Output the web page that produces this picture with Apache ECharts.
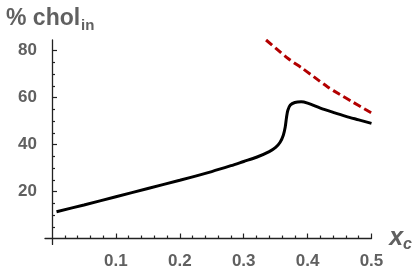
<!DOCTYPE html>
<html>
<head>
<meta charset="utf-8">
<script src="https://cdn.jsdelivr.net/npm/echarts@6/dist/echarts.min.js"></script>
<style>html,body{margin:0;padding:0;background:#fff}#c{width:415px;height:270px}</style>
</head>
<body>
<div id="c"></div>
<script>
const xTickLabels = [0.1, 0.2, 0.3, 0.4, 0.5];
const yTickLabels = [20, 40, 60, 80];
const blackX = [0.007, 0.05, 0.1, 0.15, 0.2, 0.25, 0.28, 0.3, 0.32, 0.34, 0.35, 0.357, 0.362, 0.365, 0.367, 0.369, 0.373, 0.38, 0.39, 0.40, 0.42, 0.44, 0.46, 0.48, 0.50];
const blackY = [11.4, 14.3, 17.8, 21.3, 24.8, 28.5, 31, 32.8, 34.6, 37, 38.8, 41, 44, 47.5, 51.5, 54.5, 56.8, 57.9, 58.2, 57.6, 55.5, 53.7, 52, 50.5, 49];
const redX = [0.335, 0.35, 0.37, 0.392, 0.41, 0.431, 0.45, 0.47, 0.49, 0.501];
const redY = [84.5, 81, 76.5, 72.4, 68.8, 64.6, 61.4, 58.2, 55.0, 53.3];

const zip = (a, b) => a.map((v, i) => [v, b[i]]);
const grey = '#606060';
const axisCol = '#222222';
const font = 'Liberation Sans';

const chart = echarts.init(document.getElementById('c'), null, {renderer: 'canvas'});
chart.setOption({
  animation: false,
  backgroundColor: '#ffffff',
  title: {
    left: 1, top: 0,
    text: '{a|% chol}{b|in}',
    textStyle: {
      rich: {
        a: {fontFamily: font, fontWeight: 'bold', fontSize: 23, color: grey, lineHeight: 28},
        b: {fontFamily: font, fontWeight: 'bold', fontSize: 15, color: grey, verticalAlign: 'bottom', padding: [9, 0, 0, 1], lineHeight: 28}
      }
    }
  },
  grid: {left: 45, right: 40, top: 40, bottom: 25.6},
  xAxis: {
    type: 'value', min: -0.011, max: 0.5, splitNumber: 5,
    name: '{x|x}{c|c}', nameLocation: 'end', nameGap: 14,
    nameTextStyle: {
      rich: {
        x: {fontFamily: font, fontWeight: 'bold', fontStyle: 'italic', fontSize: 25, color: grey},
        c: {fontFamily: font, fontWeight: 'bold', fontStyle: 'italic', fontSize: 16, color: grey, padding: [12, 0, 0, 0]}
      }
    },
    axisLine: {onZero: true, lineStyle: {color: axisCol, width: 1.3}},
    axisTick: {inside: true, length: 5, customValues: xTickLabels, lineStyle: {color: axisCol, width: 1.2}},
    minorTick: {show: true, splitNumber: 5, length: 3, lineStyle: {color: axisCol, width: 1.2}},
    axisLabel: {customValues: xTickLabels, margin: 8, fontFamily: font, fontWeight: 'bold', fontSize: 17, color: grey,
      formatter: v => v.toFixed(1)},
    splitLine: {show: false}
  },
  yAxis: {
    type: 'value', min: -2.5, max: 84.5, splitNumber: 4,
    axisLine: {show: true, onZero: true, lineStyle: {color: axisCol, width: 1.3}},
    axisTick: {show: true, inside: true, length: 5, customValues: yTickLabels, lineStyle: {color: axisCol, width: 1.2}},
    minorTick: {show: true, splitNumber: 4, length: 3, lineStyle: {color: axisCol, width: 1.2}},
    axisLabel: {customValues: yTickLabels, margin: 8, fontFamily: font, fontWeight: 'bold', fontSize: 17, color: grey,
      formatter: v => String(Math.round(v))},
    splitLine: {show: false}
  },
  series: [
    {type: 'line', data: zip(redX, redY), showSymbol: false, smooth: 0.3, clip: true,
     lineStyle: {color: '#b30000', width: 3, type: [8, 4]}},
    {type: 'line', data: zip(blackX, blackY), showSymbol: false, smooth: 0.3, clip: true,
     lineStyle: {color: '#000000', width: 3}}
  ]
});
</script>
</body>
</html>
